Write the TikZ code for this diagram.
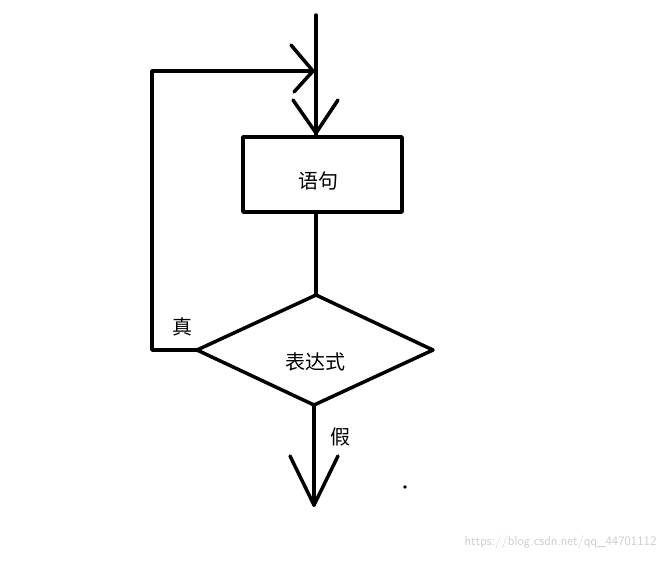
\documentclass[tikz,border=0pt]{standalone}
\usepackage{fontspec}
\newfontfamily\cjk{Noto Sans CJK SC}
\begin{document}
\begin{tikzpicture}[x=1pt,y=-1pt,
  ln/.style={line width=3.5pt,line cap=round,line join=round},
  lbl/.style={font=\cjk\fontsize{20}{22}\selectfont,inner sep=0pt}]
\useasboundingbox (0,0) rectangle (668,560);
\node[ln,draw,minimum width=159pt,minimum height=75pt] (box) at (322.5,174.5) {};
\node[lbl] (t1) at (318,181) {语句};
\coordinate (dt) at (316,295);
\coordinate (dl) at (197,350);
\coordinate (dr) at (433,350);
\coordinate (db) at (314,405);
\draw[ln] (dt) -- (dr) -- (db) -- (dl) -- cycle;
\node[lbl] (t2) at (315,362) {表达式};
\coordinate (top) at (316,15);
\draw[ln] (top) -- (box.north -| top);
\draw[ln] (293,100) -- (316,133) -- (338,100);
\draw[ln] (box.south -| top) -- (dt);
\coordinate (c1) at (152,350);
\coordinate (c2) at (152,71);
\coordinate (c3) at (313,71);
\draw[ln] (dl) -- (c1) -- (c2) -- (c3);
\draw[ln] (291,45) -- (c3) -- (294,92);
\coordinate (end) at (314,505);
\draw[ln] (db) -- (end);
\draw[ln] (290,456) -- (end) -- (338,456);
\node[lbl] (zh) at (182,327) {真};
\node[lbl] (jia) at (340,437) {假};
\fill (405,487) circle (1.8pt);
\node[font=\fontsize{13}{15}\selectfont\sffamily,text=gray!40,anchor=east] (wm) at (660,542) {https://blog.csdn.net/qq\_44701112};
\end{tikzpicture}
\end{document}
